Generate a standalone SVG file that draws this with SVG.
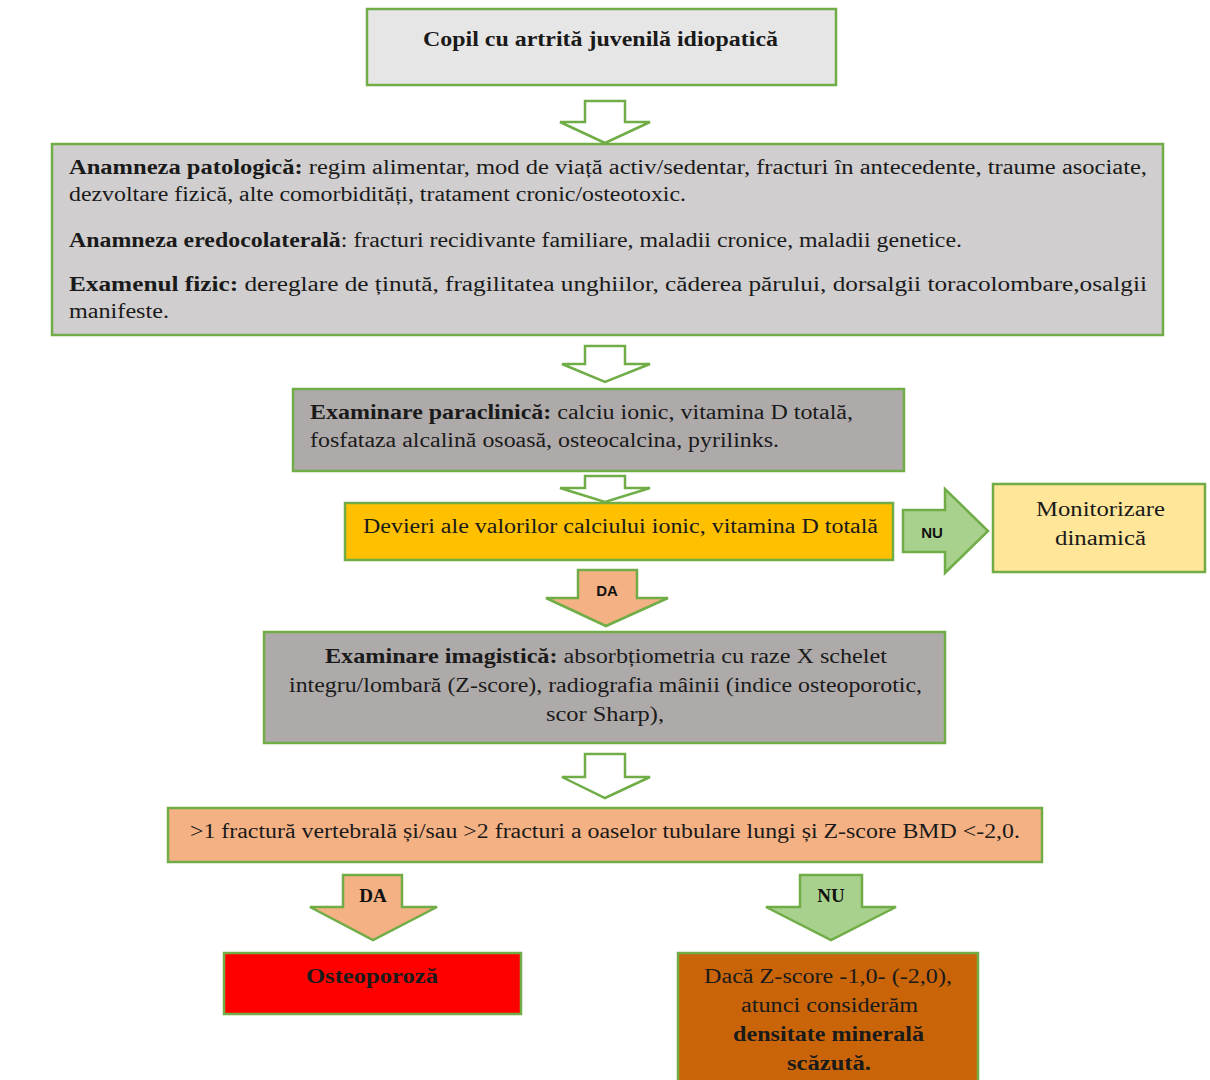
<svg xmlns="http://www.w3.org/2000/svg" width="1210" height="1080" viewBox="0 0 1210 1080">
<style>
.box{stroke:#70ad47;stroke-width:2.5}
.t{font-family:"Liberation Serif","Times New Roman",serif;font-size:20px;fill:#1a1a1a}
.b{font-weight:bold}
.hollow{fill:#ffffff;stroke:#70ad47;stroke-width:2.5;stroke-linejoin:miter}
.ga{fill:#a9d18e;stroke:#70ad47;stroke-width:2.5}
.oa{fill:#f4b183;stroke:#70ad47;stroke-width:2.5}
.lab{font-family:"Liberation Sans",Arial,sans-serif;font-size:15px;font-weight:bold;fill:#111}
.labs{font-family:"Liberation Serif","Times New Roman",serif;font-size:19px;font-weight:bold;fill:#111}
</style>
<rect width="1210" height="1080" fill="#ffffff"/>
<g id="connectors">
<polygon class="hollow" points="585,101 625,101 625,122 650,122 605,143 560,122 585,122"/>
<polygon class="hollow" points="585,346 625,346 625,364 650,364 605,382 562,364 585,364"/>
<polygon class="hollow" points="585,476 625,476 625,488 650,488 605,502 560,488 585,488"/>
<polygon class="hollow" points="585,754 625,754 625,777 650,777 605,798 562,777 585,777"/>
<g id="arrow-nu-right">
<polygon class="ga" points="903,510 945,510 945,489 988,531 945,573 945,552 903,552"/>
<text class="lab" x="932" y="538" text-anchor="middle">NU</text>
</g>
<g id="arrow-da-1">
<polygon class="oa" points="578,570 637,570 637,598 668,598 606,626 546,598 578,598"/>
<text class="lab" x="607" y="596" text-anchor="middle">DA</text>
</g>
<g id="arrow-da-2">
<polygon class="oa" points="343,875 402,875 402,907 437,907 373,940 310,907 343,907"/>
<text class="labs" x="373" y="902" text-anchor="middle">DA</text>
</g>
<g id="arrow-nu-2">
<polygon class="ga" points="800,875 862,875 862,907 896,907 831,940 766,907 800,907"/>
<text class="labs" x="831" y="902" text-anchor="middle">NU</text>
</g>
</g>
<g id="n1">
<rect class="box" x="367" y="9" width="469" height="76" fill="#e7e6e6"/>
<text class="t b" x="423" y="46" textLength="355" lengthAdjust="spacingAndGlyphs">Copil cu artrită juvenilă idiopatică</text>
</g>
<g id="n2">
<rect class="box" x="52" y="144" width="1111" height="191" fill="#d0cece"/>
<text class="t" x="69" y="174" textLength="1078" lengthAdjust="spacingAndGlyphs"><tspan class="b">Anamneza patologică:</tspan> regim alimentar, mod de viață activ/sedentar, fracturi în antecedente, traume asociate,</text>
<text class="t" x="69" y="201" textLength="617" lengthAdjust="spacingAndGlyphs">dezvoltare fizică, alte comorbidități, tratament cronic/osteotoxic.</text>
<text class="t" x="69" y="247" textLength="893" lengthAdjust="spacingAndGlyphs"><tspan class="b">Anamneza eredocolaterală</tspan>: fracturi recidivante familiare, maladii cronice, maladii genetice.</text>
<text class="t" x="69" y="291" textLength="1078" lengthAdjust="spacingAndGlyphs"><tspan class="b">Examenul fizic:</tspan> dereglare de ținută, fragilitatea unghiilor, căderea părului, dorsalgii toracolombare,osalgii</text>
<text class="t" x="69" y="318" textLength="100" lengthAdjust="spacingAndGlyphs">manifeste.</text>
</g>
<g id="n3">
<rect class="box" x="293" y="389" width="611" height="82" fill="#aeaaaa"/>
<text class="t" x="310" y="419" textLength="543" lengthAdjust="spacingAndGlyphs"><tspan class="b">Examinare paraclinică:</tspan> calciu ionic, vitamina D totală,</text>
<text class="t" x="310" y="447" textLength="469" lengthAdjust="spacingAndGlyphs">fosfataza alcalină osoasă, osteocalcina, pyrilinks.</text>
</g>
<g id="n4">
<rect class="box" x="345" y="503" width="548" height="57" fill="#ffc000"/>
<text class="t" x="363" y="533" textLength="515" lengthAdjust="spacingAndGlyphs">Devieri ale valorilor calciului ionic, vitamina D totală</text>
</g>
<g id="n5">
<rect class="box" x="993" y="484" width="212" height="88" fill="#ffe699"/>
<text class="t" x="1036" y="516" textLength="129" lengthAdjust="spacingAndGlyphs">Monitorizare</text>
<text class="t" x="1055" y="545" textLength="91" lengthAdjust="spacingAndGlyphs">dinamică</text>
</g>
<g id="n6">
<rect class="box" x="264" y="632" width="681" height="111" fill="#aeaaaa"/>
<text class="t" x="325" y="663" textLength="562" lengthAdjust="spacingAndGlyphs"><tspan class="b">Examinare imagistică:</tspan> absorbțiometria cu raze X  schelet</text>
<text class="t" x="289" y="692" textLength="633" lengthAdjust="spacingAndGlyphs">integru/lombară (Z-score), radiografia mâinii (indice osteoporotic,</text>
<text class="t" x="546" y="721" textLength="118" lengthAdjust="spacingAndGlyphs">scor Sharp),</text>
</g>
<g id="n7">
<rect class="box" x="168" y="808" width="874" height="54" fill="#f4b183"/>
<text class="t" x="190" y="838" textLength="830" lengthAdjust="spacingAndGlyphs">&gt;1 fractură vertebrală și/sau &gt;2 fracturi a oaselor tubulare lungi și Z-score BMD &lt;-2,0.</text>
</g>
<g id="n8">
<rect class="box" x="224" y="953" width="297" height="61" fill="#ff0000"/>
<text class="t b" x="306" y="983" textLength="132" lengthAdjust="spacingAndGlyphs">Osteoporoză</text>
</g>
<g id="n9">
<rect class="box" x="678" y="953" width="300" height="135" fill="#c96508"/>
<text class="t" x="704" y="983" textLength="248" lengthAdjust="spacingAndGlyphs">Dacă Z-score -1,0- (-2,0),</text>
<text class="t" x="741" y="1012" textLength="177" lengthAdjust="spacingAndGlyphs">atunci considerăm</text>
<text class="t b" x="733" y="1041" textLength="191" lengthAdjust="spacingAndGlyphs">densitate minerală</text>
<text class="t b" x="787" y="1070" textLength="84" lengthAdjust="spacingAndGlyphs">scăzută.</text>
</g>
</svg>
